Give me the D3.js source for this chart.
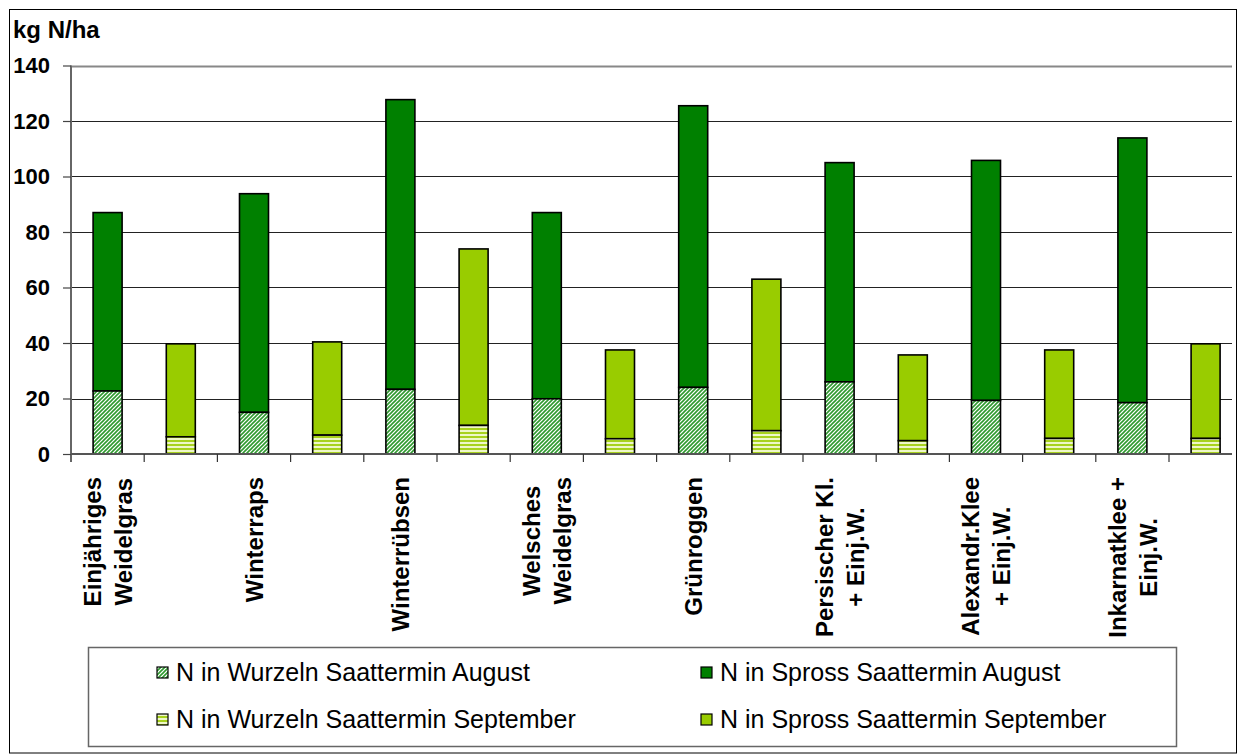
<!DOCTYPE html>
<html>
<head>
<meta charset="utf-8">
<script src="https://cdn.jsdelivr.net/npm/d3@7"></script>
<style>
  html, body { margin: 0; padding: 0; background: #fff; }
  svg { display: block; font-family: "Liberation Sans", Arial, sans-serif; }
</style>
</head>
<body>
<svg id="chart" width="1239" height="755"></svg>
<script>
// Cover crops, each sown in August and in September
const crops = [
  ["Einjähriges", "Weidelgras"],
  ["Winterraps"],
  ["Winterrübsen"],
  ["Welsches", "Weidelgras"],
  ["Grünroggen"],
  ["Persischer Kl.", "+ Einj.W."],
  ["Alexandr.Klee", "+ Einj.W."],
  ["Inkarnatklee +", "Einj.W."]
];

// kg N/ha
const rootAugust  = [22.7, 15.0, 23.3, 19.9, 24.0, 26.0, 19.3, 18.5];
const shootAugust = [64.3, 78.8, 104.4, 67.1, 101.5, 79.0, 86.5, 95.4];
const rootSeptember  = [6.2, 6.8, 10.3, 5.5, 8.4, 4.8, 5.6, 5.6];
const shootSeptember = [33.5, 33.6, 63.6, 32.0, 54.6, 30.9, 31.9, 34.1];

const yTicks = [0, 20, 40, 60, 80, 100, 120, 140];

const seriesNames = [
  "N in Wurzeln Saattermin August",
  "N in Spross Saattermin August",
  "N in Wurzeln Saattermin September",
  "N in Spross Saattermin September"
];

const darkGreen = "#008000";
const lime = "#99cc00";

const svg = d3.select("#chart");
const defs = svg.append("defs");

// diagonal hatch for August roots
const pAug = defs.append("pattern").attr("id", "hatchAug")
  .attr("patternUnits", "userSpaceOnUse").attr("width", 4).attr("height", 4);
pAug.append("rect").attr("width", 4).attr("height", 4).attr("fill", "#ffffff");
pAug.append("path").attr("d", "M-1,1 l2,-2 M0,4 l4,-4 M3,5 l2,-2")
  .attr("stroke", "#2f9a2f").attr("stroke-width", 1.6);

// horizontal stripes for September roots
const pSep = defs.append("pattern").attr("id", "hatchSep")
  .attr("patternUnits", "userSpaceOnUse").attr("width", 4).attr("height", 4);
pSep.append("rect").attr("width", 4).attr("height", 4).attr("fill", "#eef7c8");
pSep.append("rect").attr("y", 0).attr("width", 4).attr("height", 2).attr("fill", "#a8d21e");

// slots: August and September bar per crop
const slots = [];
crops.forEach((c, i) => {
  slots.push({ crop: i, month: "Aug", label: c, root: rootAugust[i], shoot: shootAugust[i] });
  slots.push({ crop: i, month: "Sep", label: null, root: rootSeptember[i], shoot: shootSeptember[i] });
});

const plotLeft = 71, slotW = 73.2, plotBottom = 454, plotTop = 65.5, gridRight = 1232;
const x = d3.scaleBand().domain(d3.range(slots.length))
  .range([plotLeft, plotLeft + slotW * slots.length]).paddingInner(0).paddingOuter(0);
const y = d3.scaleLinear().domain([0, 140]).range([plotBottom, plotTop]);

// outer frame
svg.append("rect").attr("x", 9.5).attr("y", 9.5).attr("width", 1227).attr("height", 743.5)
  .attr("fill", "none").attr("stroke", "#000").attr("stroke-width", 1);

// gridlines
svg.append("g").selectAll("line").data(yTicks.filter(t => t > 0)).join("line")
  .attr("x1", plotLeft).attr("x2", gridRight)
  .attr("y1", d => Math.round(y(d)) + 0.5).attr("y2", d => Math.round(y(d)) + 0.5)
  .attr("stroke", d => d === 140 ? "#888" : "#222").attr("stroke-width", d => d === 140 ? 2 : 1);

// y axis
const yAxis = svg.append("g").attr("transform", `translate(${plotLeft},0)`)
  .call(d3.axisLeft(y).tickValues(yTicks).tickSize(8).tickPadding(13));
yAxis.select(".domain").attr("stroke", "#666").attr("stroke-width", 2)
  .attr("d", `M0,${plotTop}V${plotBottom + 8}`);
yAxis.selectAll(".tick line").attr("stroke", "#444").attr("stroke-width", 1.2);
yAxis.selectAll(".tick text").attr("font-size", 22).attr("font-weight", "bold")
  .attr("fill", "#000").attr("font-family", "Liberation Sans, Arial, sans-serif");

// y axis title
svg.append("text").attr("x", 13).attr("y", 38).text("kg N/ha")
  .attr("font-size", 24).attr("font-weight", "bold");

// bars
const barW = 29;
const gBars = svg.append("g");
slots.forEach((s, i) => {
  const cx = x(i) + x.bandwidth() / 2;
  const rootFill = s.month === "Aug" ? "url(#hatchAug)" : "url(#hatchSep)";
  const shootFill = s.month === "Aug" ? darkGreen : lime;
  gBars.append("rect")
    .attr("x", cx - barW / 2).attr("width", barW)
    .attr("y", y(s.root + s.shoot)).attr("height", y(s.root) - y(s.root + s.shoot))
    .attr("fill", shootFill).attr("stroke", "#000").attr("stroke-width", 1.6);
  gBars.append("rect")
    .attr("x", cx - barW / 2).attr("width", barW)
    .attr("y", y(s.root)).attr("height", y(0) - y(s.root))
    .attr("fill", rootFill).attr("stroke", "#000").attr("stroke-width", 1.6);
});

// x axis line and tick marks at slot boundaries
svg.append("line").attr("x1", plotLeft).attr("x2", gridRight)
  .attr("y1", plotBottom).attr("y2", plotBottom)
  .attr("stroke", "#555").attr("stroke-width", 2);
svg.append("g").selectAll("line").data(d3.range(1, slots.length)).join("line")
  .attr("x1", d => x(d)).attr("x2", d => x(d))
  .attr("y1", plotBottom).attr("y2", plotBottom + 8)
  .attr("stroke", "#333").attr("stroke-width", 1.2);

// category labels, rotated, under the August bar of each crop
const labelTop = 477, lineGap = 31, labelSize = 24;
slots.forEach((s, i) => {
  if (!s.label) return;
  const cx = x(i) + x.bandwidth() / 2;
  const g = svg.append("g");
  const texts = s.label.map((line, k) => {
    const off = (k - (s.label.length - 1) / 2) * lineGap;
    return g.append("text")
      .attr("font-size", labelSize).attr("font-weight", "bold")
      .attr("text-anchor", "middle").attr("dy", "0.36em")
      .datum(off).text(line);
  });
  const maxLen = d3.max(texts, t => t.node().getComputedTextLength());
  texts.forEach(t => {
    const off = t.datum();
    t.attr("transform", `translate(${cx + off},${labelTop + maxLen / 2}) rotate(-90)`);
  });
});

// legend
const lg = svg.append("g");
lg.append("rect").attr("x", 88.5).attr("y", 647.5).attr("width", 1088).attr("height", 99)
  .attr("fill", "#fff").attr("stroke", "#666").attr("stroke-width", 1.5);
const legendItems = [
  { name: seriesNames[0], fill: "url(#hatchAug)", x: 157, y: 672 },
  { name: seriesNames[1], fill: darkGreen, x: 701, y: 672 },
  { name: seriesNames[2], fill: "url(#hatchSep)", x: 157, y: 719 },
  { name: seriesNames[3], fill: lime, x: 701, y: 719 }
];
legendItems.forEach(it => {
  lg.append("rect").attr("x", it.x).attr("y", it.y - 5).attr("width", 11).attr("height", 11)
    .attr("fill", it.fill).attr("stroke", "#000").attr("stroke-width", 1.2);
  lg.append("text").attr("x", it.x + 19).attr("y", it.y).attr("dy", "0.36em")
    .attr("font-size", 25).text(it.name);
});
</script>
</body>
</html>
